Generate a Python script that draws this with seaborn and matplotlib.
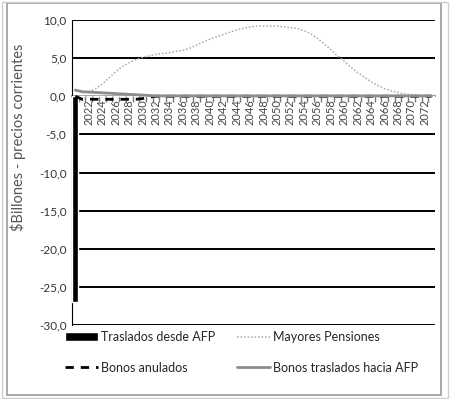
import matplotlib
matplotlib.use("Agg")
import matplotlib.pyplot as plt
from matplotlib.patches import Rectangle
from matplotlib.ticker import FuncFormatter, FixedLocator
import numpy as np
import pandas as pd
import seaborn as sns

# Years on the category axis
years = list(range(2020, 2074))

# Transfers from AFP (bars, $ billions)
traslados_afp = [-27.0] + [0.0] * 53

# Higher pensions (dotted line)
mayores_pensiones = [
    0.9, 0.5, 0.6, 1.0, 1.6, 2.4, 3.2, 3.9, 4.4, 4.8,
    5.1, 5.3, 5.5, 5.6, 5.7, 5.9, 6.0, 6.3, 6.7, 7.1,
    7.5, 7.8, 8.1, 8.4, 8.7, 8.9, 9.1, 9.2, 9.2, 9.2,
    9.2, 9.1, 9.0, 8.9, 8.6, 8.2, 7.6, 6.9, 6.1, 5.3,
    4.6, 3.8, 3.1, 2.5, 1.9, 1.4, 1.0, 0.7, 0.5, 0.3,
    0.2, 0.1, 0.1, 0.1,
]

# Cancelled bonds (dashed line)
bonos_anulados = [0.0] + [-0.4] * 9 + [-0.3, -0.1] + [0.0] * 42

# Bonds transferred to AFP (solid grey line)
bonos_hacia_afp = [
    0.8, 0.6, 0.55, 0.5, 0.45, 0.4, 0.35, 0.3, 0.25, 0.2,
    0.15, 0.1,
] + [0.05] * 42

y_ticks = [10, 5, 0, -5, -10, -15, -20, -25, -30]

sns.set_theme(style="white")
plt.rcParams["font.family"] = ["Lato", "DejaVu Sans"]

idx = np.arange(len(years))
df = pd.DataFrame({
    "pos": idx,
    "anio": [str(y) for y in years],
    "traslados": traslados_afp,
    "mayores": mayores_pensiones,
    "anulados": bonos_anulados,
    "hacia": bonos_hacia_afp,
})

fig = plt.figure(figsize=(4.5, 3.99), dpi=100)
ax = fig.add_axes([72 / 450, 1 - 325 / 399, (435 - 72) / 450, (325 - 20) / 399])

# Horizontal gridlines
for v in y_ticks:
    if v != 0:
        ax.axhline(v, color="black", lw=1.4, zorder=1)

sns.barplot(data=df, x="pos", y="traslados", color="black", width=0.9,
            saturation=1, ax=ax, zorder=3, native_scale=True,
            label="Traslados desde AFP")
sns.lineplot(data=df, x="pos", y="anulados", color="black", lw=2,
             linestyle=(0, (3, 2.5)), ax=ax, zorder=4, label="Bonos anulados")
sns.lineplot(data=df, x="pos", y="mayores", color="#a8a8a8", lw=1.1,
             linestyle=(0, (1, 1.3)), ax=ax, zorder=4, label="Mayores Pensiones")
sns.lineplot(data=df, x="pos", y="hacia", color="#8c8c8c", lw=2,
             ax=ax, zorder=4, label="Bonos traslados hacia AFP")

ax.set_xlim(-0.5, len(years) - 0.5)
ax.set_ylim(-30, 10)
ax.set_yticks(y_ticks)
ax.yaxis.set_major_formatter(FuncFormatter(lambda v, p: f"{v:.1f}".replace(".", ",")))
ax.tick_params(axis="y", length=0, labelsize=8.5, pad=4, colors="#333333")

# Category axis crossing at zero
ax.spines["bottom"].set_position(("data", 0))
ax.spines["bottom"].set_color("#9a9a9a")
ax.spines["bottom"].set_linewidth(1.5)
ax.spines["bottom"].set_zorder(2)
for s in ("top", "right"):
    ax.spines[s].set_visible(False)
ax.spines["left"].set_color("black")
ax.spines["left"].set_linewidth(0.8)

label_pos = [i for i, y in enumerate(years) if y % 2 == 0 and y >= 2022]
ax.xaxis.set_major_locator(FixedLocator(label_pos))
ax.set_xticklabels([str(years[i]) for i in label_pos], rotation=90,
                   fontsize=8, color="#444444")
ax.xaxis.set_minor_locator(FixedLocator(idx[:-1] + 0.5))
ax.tick_params(axis="x", which="major", length=0, pad=2)
ax.tick_params(axis="x", which="minor", length=4.5, width=1, color="#777777",
               direction="out", bottom=True)
ax.set_xlabel("")
ax.set_ylabel("")

fig.text(18 / 450, 1 - 137 / 399, "$Billones - precios corrientes", rotation=90,
         ha="center", va="center", fontsize=10.5, color="#555555")

handles, labels = ax.get_legend_handles_labels()
order = ["Traslados desde AFP", "Bonos anulados", "Mayores Pensiones",
         "Bonos traslados hacia AFP"]
hmap = dict(zip(labels, handles))
ax.legend([hmap[k] for k in order], order, ncol=2, loc="upper left",
          bbox_to_anchor=(60 / 450, 1 - 326 / 399), bbox_transform=fig.transFigure,
          frameon=False, fontsize=9, handlelength=2.6, handletextpad=0.25,
          labelspacing=1.5, columnspacing=1.8, borderaxespad=0)

# Outer chart frame
fig.patches.append(Rectangle((7 / 450, 4 / 399), 434 / 450, 392 / 399,
                             transform=fig.transFigure, fill=False,
                             edgecolor="#9a9a9a", lw=1.2))
fig.patches.append(Rectangle((2 / 450, 1 / 399), 446 / 450, 396 / 399,
                             transform=fig.transFigure, fill=False,
                             edgecolor="#cfcfcf", lw=1))

fig.savefig("out.png", dpi=100)
